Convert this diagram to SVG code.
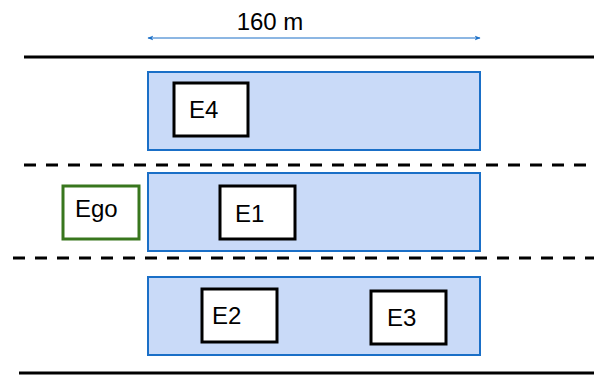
<svg xmlns="http://www.w3.org/2000/svg" width="594" height="376" viewBox="0 0 594 376">
  <style>
    .road { stroke: #000; stroke-width: 3; fill: none; }
    .lane { stroke: #000; stroke-width: 3; stroke-dasharray: 12 10; fill: none; }
    .zone { fill: #c9daf8; stroke: #1a6fc7; stroke-width: 2; }
    .veh { fill: #fff; stroke: #000; stroke-width: 3; }
    .ego { fill: #fff; stroke: #38761d; stroke-width: 3; }
    .lbl { font-family: "Liberation Sans", Arial, sans-serif; font-size: 24px; fill: #000; }
    .dim { stroke: #1a6fc7; stroke-width: 1; fill: none; }
  </style>
  <defs>
    <marker id="arr" viewBox="0 0 10 10" refX="9" refY="5" markerWidth="6" markerHeight="6" orient="auto-start-reverse" markerUnits="userSpaceOnUse">
      <path d="M0,1 L10,5 L0,9 L3,5 Z" fill="#1a6fc7"/>
    </marker>
  </defs>

  <!-- road edges and lane markings -->
  <g id="road">
    <line class="road" x1="24" y1="57" x2="594" y2="57"/>
    <line class="lane" x1="24" y1="165" x2="594" y2="165"/>
    <line class="lane" x1="13" y1="258" x2="594" y2="258"/>
    <line class="road" x1="19" y1="373" x2="594" y2="373"/>
  </g>

  <!-- 160 m span -->
  <g id="dimension">
    <line class="dim" x1="148" y1="38" x2="480" y2="38" marker-start="url(#arr)" marker-end="url(#arr)"/>
    <text class="lbl" x="270" y="30" text-anchor="middle">160 m</text>
  </g>

  <!-- lane regions -->
  <g id="zone-top"><rect class="zone" x="148" y="72" width="332" height="78"/></g>
  <g id="zone-mid"><rect class="zone" x="148" y="173" width="332" height="78"/></g>
  <g id="zone-bot"><rect class="zone" x="148" y="277" width="332" height="78"/></g>

  <!-- vehicles -->
  <g id="Ego">
    <rect class="ego" x="63" y="186" width="76" height="53"/>
    <text class="lbl" x="75" y="217">Ego</text>
  </g>
  <g id="E4">
    <rect class="veh" x="174" y="83" width="74" height="53"/>
    <text class="lbl" x="189" y="118">E4</text>
  </g>
  <g id="E1">
    <rect class="veh" x="220" y="186" width="75" height="53"/>
    <text class="lbl" x="235" y="222">E1</text>
  </g>
  <g id="E2">
    <rect class="veh" x="202" y="289" width="75" height="53"/>
    <text class="lbl" x="212" y="324">E2</text>
  </g>
  <g id="E3">
    <rect class="veh" x="371" y="291" width="75" height="53"/>
    <text class="lbl" x="387" y="326">E3</text>
  </g>

  <g id="connectors"></g>
</svg>
